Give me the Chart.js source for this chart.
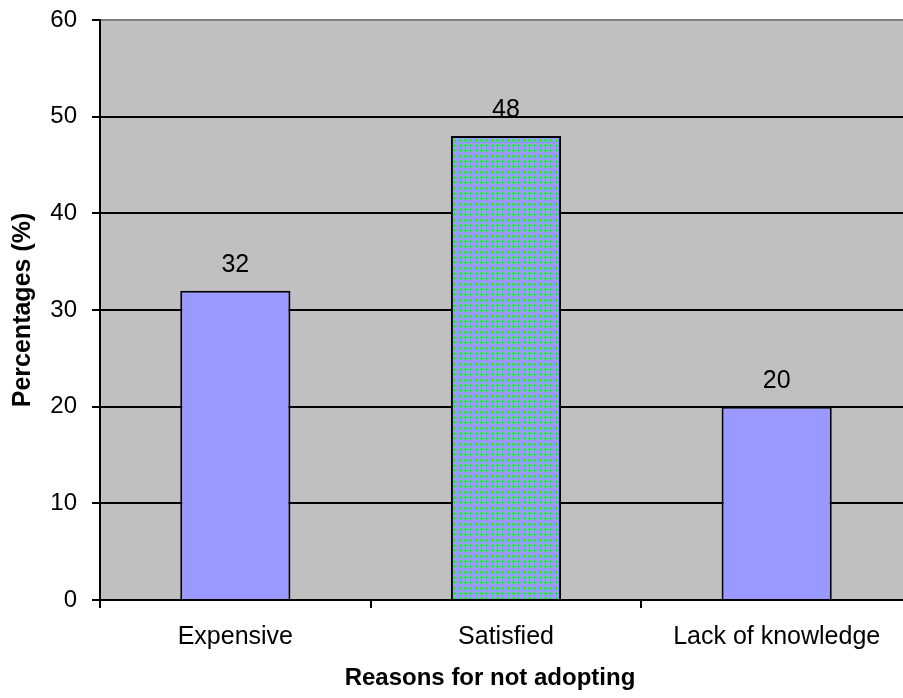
<!DOCTYPE html>
<html>
<head>
<meta charset="utf-8">
<title>Reasons for not adopting</title>
<script src="https://cdn.jsdelivr.net/npm/chart.js@4.4.1/dist/chart.umd.min.js"></script>
<style>
  html, body { margin: 0; padding: 0; overflow: hidden; background: #fff; }
  canvas { display: block; }
</style>
</head>
<body>
<canvas id="reasonsChart" width="912" height="698"></canvas>
<script>
const reasons = ['Expensive', 'Satisfied', 'Lack of knowledge'];
const percentages = [32, 48, 20];
const yTicks = [0, 10, 20, 30, 40, 50, 60];

const FONT = '"Liberation Sans", Arial, sans-serif';

// dotted fill for the middle bar: green dots on lavender
function dottedPattern(target) {
  const tile = document.createElement('canvas');
  tile.width = 16; tile.height = 16;
  const t = tile.getContext('2d');
  t.fillStyle = '#9999ff';
  t.fillRect(0, 0, 16, 16);
  const steps = [0, 5, 11];
  for (const x of steps) for (const y of steps) {
    t.fillStyle = '#55dd88';
    t.fillRect(x, y, 3, 3);
    t.fillStyle = '#11ee22';
    t.fillRect(x + 1, y, 1, 3);
    t.fillRect(x, y + 1, 3, 1);
  }
  return target.createPattern(tile, 'repeat');
}

const canvas = document.getElementById('reasonsChart');
const ctx = canvas.getContext('2d');
const fills = ['#9999ff', dottedPattern(ctx), '#9999ff'];

const plotBackground = {
  id: 'plotBackground',
  beforeDraw(chart) {
    const { ctx, chartArea: a } = chart;
    ctx.save();
    ctx.fillStyle = '#c0c0c0';
    ctx.fillRect(a.left, a.top, a.right - a.left, a.bottom - a.top);
    ctx.restore();
  }
};

const valueLabels = {
  id: 'valueLabels',
  afterDatasetsDraw(chart) {
    const { ctx } = chart;
    const meta = chart.getDatasetMeta(0);
    ctx.save();
    ctx.font = '25px ' + FONT;
    ctx.fillStyle = '#000';
    ctx.textAlign = 'center';
    ctx.textBaseline = 'alphabetic';
    meta.data.forEach((bar, i) => {
      ctx.fillText(String(percentages[i]), bar.x, bar.y - 19);
    });
    ctx.restore();
  }
};

const xTitle = {
  id: 'xTitle',
  afterDraw(chart) {
    const { ctx } = chart;
    ctx.save();
    ctx.font = 'bold 24px ' + FONT;
    ctx.fillStyle = '#000';
    ctx.textAlign = 'center';
    ctx.textBaseline = 'middle';
    ctx.fillText('Reasons for not adopting', 490, 678);
    ctx.restore();
  }
};

new Chart(ctx, {
  type: 'bar',
  data: {
    labels: reasons,
    datasets: [{
      data: percentages,
      backgroundColor: fills,
      borderColor: '#000',
      borderWidth: 2,
      categoryPercentage: 1,
      barPercentage: 0.407
    }]
  },
  options: {
    responsive: false,
    devicePixelRatio: 1,
    animation: false,
    layout: { padding: { top: 20, left: 0, right: 0, bottom: 0 } },
    plugins: { legend: { display: false }, tooltip: { enabled: false } },
    scales: {
      x: {
        offset: true,
        afterFit: s => { s.height = 98; s.paddingLeft = 0; s.paddingRight = 0; },
        grid: { display: true, drawOnChartArea: false, offset: true, color: '#000', lineWidth: 2, tickLength: 8 },
        border: { display: true, color: '#000', width: 2 },
        ticks: { color: '#000', font: { family: FONT, size: 25 }, padding: 14, maxRotation: 0 }
      },
      y: {
        min: 0, max: 60,
        afterFit: s => { s.width = 100; s.paddingTop = 0; s.paddingBottom = 0; },
        afterBuildTicks: s => { s.ticks = yTicks.map(v => ({ value: v })); },
        grid: {
          color: c => (c.tick && c.tick.value === 60) ? '#808080' : '#000',
          tickColor: '#000',
          lineWidth: 2,
          tickLength: 8
        },
        border: { display: true, color: '#000', width: 2 },
        ticks: { color: '#000', font: { family: FONT, size: 24 }, padding: 15 },
        title: {
          display: true,
          text: 'Percentages (%)',
          color: '#000',
          font: { family: FONT, size: 25, weight: 'bold' },
          padding: { top: 8, bottom: 0 }
        }
      }
    }
  },
  plugins: [plotBackground, valueLabels, xTitle]
});
</script>
</body>
</html>
